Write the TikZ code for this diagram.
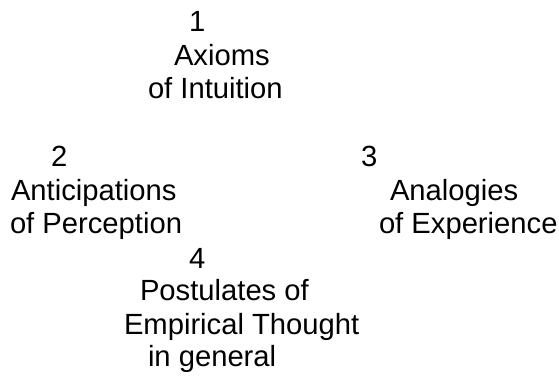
\documentclass[tikz,border=0pt]{standalone}
\usepackage{fontspec}
\setmainfont{Liberation Sans}
\begin{document}
\begin{tikzpicture}[x=1pt,y=-1pt,
  lbl/.style={anchor=base west,inner sep=0pt,outer sep=0pt,font=\fontsize{29.2}{33.3}\selectfont}]
\useasboundingbox[fill=white] (0,0) rectangle (559,375);
% block 1
\node[lbl] (n1)  at (189,31)  {1};
\node[lbl] (a1)  at (174,65)  {Axioms};
\node[lbl] (a2)  at (148,98)  {of Intuition};
% block 2
\node[lbl] (n2)  at (51,166)  {2};
\node[lbl] (b1)  at (11,200)  {Anticipations};
\node[lbl] (b2)  at (10,233)  {of Perception};
% block 3
\node[lbl] (n3)  at (361,166) {3};
\node[lbl] (c1)  at (390,200) {Analogies};
\node[lbl] (c2)  at (379,233) {of Experience};
% block 4
\node[lbl] (n4)  at (189,268) {4};
\node[lbl] (d1)  at (140,300) {Postulates of};
\node[lbl] (d2)  at (124,334) {Empirical Thought};
\node[lbl] (d3)  at (148,366) {in general};
\end{tikzpicture}
\end{document}
